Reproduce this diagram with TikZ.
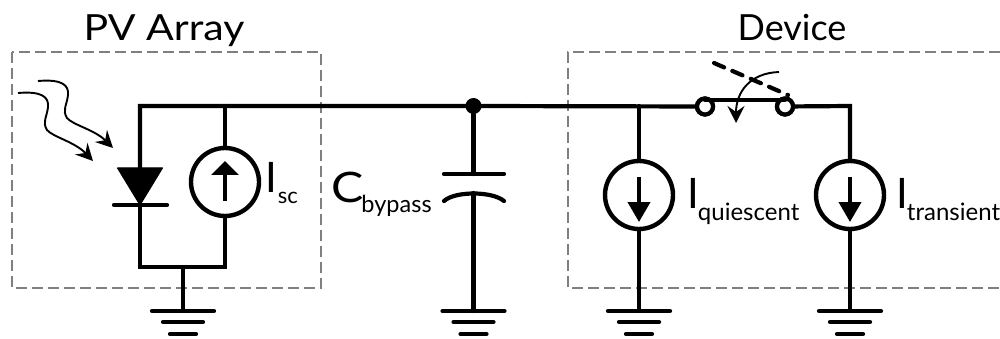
\documentclass[tikz,border=0pt]{standalone}
\usepackage{fontspec}
\setmainfont{Lato}
\usetikzlibrary{arrows.meta}
\newcommand{\lab}[6]{\scalebox{#2}[1]{\fontsize{42}{42}\selectfont #1}\kern#3pt\raisebox{-#4pt}{\fontsize{#5}{#5}\selectfont #6}}
\tikzset{
  wire/.style={line width=4.2pt,line cap=round,line join=miter},
  thinarrow/.style={line width=1.9pt,-{Stealth[length=17pt,width=17pt,inset=6pt]}},
  frame/.style={draw=black!50,line width=1.3pt,dash pattern=on 11pt off 5pt},
  source/.style={circle,draw,line width=4.4pt,minimum size=68pt,inner sep=0pt,outer sep=0pt},
  termin/.style={circle,draw,fill=white,line width=4.2pt,minimum size=16pt,inner sep=0pt,outer sep=0pt},
  upsrc/.style={line width=4pt,-{Triangle[length=14pt,width=27pt]}},
  downsrc/.style={line width=4pt,-{Triangle[length=20pt,width=22pt]}},
  title/.style={font=\fontsize{36}{36}\selectfont,anchor=base,inner sep=0pt},
  lbl/.style={anchor=base west,inner sep=0pt},
  dotnode/.style={circle,fill,minimum size=16pt,inner sep=0pt,outer sep=0pt}
}
\begin{document}
\begin{tikzpicture}[x=1pt,y=-1pt]
\useasboundingbox (0,0) rectangle (1000,339);
% frames
\draw[frame] (12,52) rectangle (321,288);
\draw[frame] (1000,52) -- (568,52) -- (568,288) -- (1000,288);
% titles
\node[title] (pv) at (164,41) {\scalebox{1.14}[1]{PV Array}};
\node[title] (dev) at (792,41) {Device};
% key coordinates
\coordinate (tl) at (140,106);
\coordinate (tm) at (225,106);
\coordinate (bl) at (140,267);
\coordinate (bm) at (225,267);
\coordinate (bg) at (183,267);
\coordinate (g1) at (183,311);
\coordinate (g2) at (473.5,311);
\coordinate (g3) at (639,311);
\coordinate (g4) at (850,311);
\coordinate (tq) at (639,106);
\coordinate (tt) at (850,106);
\coordinate (dk) at (140,205);
\coordinate (dt) at (140,168);
\coordinate (cu) at (473.5,174);
\coordinate (cl) at (473.5,193);
\node[dotnode] (jn) at (473.5,106) {};
\node[source] (sc) at (225,182) {};
\node[source] (sq) at (639,195) {};
\node[source] (st) at (850,195) {};
\node[termin] (s1) at (705,106.5) {};
\node[termin] (s2) at (785,106.5) {};
% wires
\draw[wire] (dt) -- (tl) -- (jn) -- (s1);
\draw[wire] (tm) -- (sc);
\draw[wire] (dk) -- (bl) -- (bm) -- (sc);
\draw[wire] (bg) -- (g1);
\draw[wire] (jn) -- (cu);
\draw[wire] (cl) -- (g2);
\draw[wire] (tq) -- (sq);
\draw[wire] (sq) -- (g3);
\draw[wire] (s2) -- (tt) -- (st);
\draw[wire] (st) -- (g4);
% switch (redraw terminals over wires)
\node[termin] at (s1) {};
\node[termin] at (s2) {};
\draw[wire] ([yshift=-1.5pt]s1.north) -- ([yshift=-1.5pt]s2.north);
\draw[wire,dash pattern=on 11pt off 9pt] (714,63) -- (788,95);
\draw[thinarrow] (779,72) .. controls (750,73) and (736,92) .. (736,123);
% diode
\fill[draw,line width=1pt,line join=round] (117.5,168) -- (162.5,168) -- (dk) -- cycle;
\draw[wire] (114,205) -- (167,205);
% light arrows
\draw[thinarrow] (38,81) .. controls (62,79) and (69,85) .. (68,95) .. controls (67,105) and (62,110) .. (67,118) .. controls (73,125) and (95,130) .. (113,148);
\draw[thinarrow] (18,93) .. controls (42,91) and (49,97) .. (48,107) .. controls (47,117) and (42,122) .. (47,130) .. controls (53,137) and (75,142) .. (93,161);
% source arrows
\draw[upsrc] (225,201) -- (225,161);
\draw[downsrc] (639,177) -- (639,222);
\draw[downsrc] (850,177) -- (850,222);
% capacitor
\draw[wire] (444,174) -- (504,174);
\draw[wire] (444,201) .. controls (455,191) and (492,191) .. (504,201);
% grounds
\foreach \g in {g1,g2,g3,g4}{
  \draw[wire] ([xshift=-31pt]\g) -- ([xshift=31pt]\g);
  \draw[wire] ([shift={(-20pt,-11pt)}]\g) -- ([shift={(20pt,-11pt)}]\g);
  \draw[wire] ([shift={(-13pt,-23pt)}]\g) -- ([shift={(13pt,-23pt)}]\g);
}
% labels
\node[lbl] (lsc) at (265,193) {\lab{I}{1}{1}{10}{22}{sc}};
\node[lbl] (lby) at (331,202) {\lab{C}{1.15}{-2}{10}{23.5}{bypass}};
\node[lbl] (lq) at (687,208) {\lab{I}{1}{-1}{12}{24}{quiescent}};
\node[lbl] (ltr) at (896,208) {\lab{I}{1}{-1}{12}{24}{transient}};
\end{tikzpicture}
\end{document}
